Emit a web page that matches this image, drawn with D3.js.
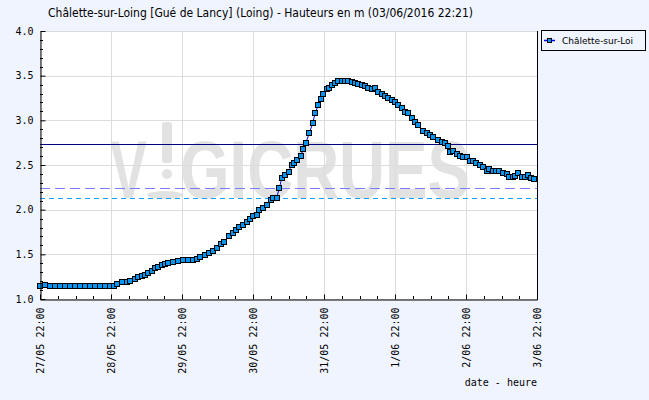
<!DOCTYPE html>
<html><head><meta charset="utf-8">
<script src="https://cdn.jsdelivr.net/npm/d3@7"></script>
<style>html,body{margin:0;padding:0;background:#f0f4ff;}svg{display:block;}</style>
</head><body>
<svg id="c" width="649" height="400"></svg>
<script>
const chartTitle = "Châlette-sur-Loing [Gué de Lancy] (Loing) - Hauteurs en m (03/06/2016 22:21)";
const seriesName = "Châlette-sur-Loi";
const xAxisTitle = "date - heure";
const startTime = new Date(2016, 4, 27, 22, 0);
const endTime = new Date(2016, 5, 3, 22, 0);
// hours after 27/05 22:00
const hours = [0,1.7,3.3,5,6.7,8.4,10.1,11.8,13.5,15.2,16.9,18.6,20.3,22,23.6,25,
 26.1,27.6,29.3,30.4,32.1,33.2,34.4,35.5,36.6,37.8,38.9,40,41.1,42.3,43.4,45,46.8,48.4,50.1,51.8,53,54.1,55.8,57.2,58.6,59.9,
 61.1,62.2,64,65.1,66.3,67.4,68.5,69.9,71,72.1,73.3,74.1,75.3,76.6,78,78.9,80,80.9,81.7,82.8,84,85.1,86,87,88.1,89,89.9,91,92.2,
 93,94.1,95,95.8,96.9,97.8,98.8,99.7,100.8,102,103.1,104.2,105.4,106.5,107.6,108.8,109.9,111,112.1,113.3,114.4,115.5,116.6,117.7,118.9,
 120,121.1,122.3,123.4,124.5,125.7,126.8,127.9,129.6,130.7,131.8,133,134.7,135.8,136.9,138,
 138.6,139.7,140.9,142,143.1,144.2,145.3,146.4,147.5,148.7,149.9,151,151.9,153,154.2,155.3,156.6,157.8,158.7,159.8,160.7,161.7,162.8,164,165.1,166,166.9];
const values = [1.15,1.155,1.15,1.15,1.14,1.14,1.14,1.14,1.14,1.14,1.14,1.14,1.14,1.145,1.15,1.15,
 1.168,1.194,1.194,1.20,1.22,1.243,1.257,1.269,1.287,1.317,1.343,1.362,1.38,1.39,1.40,1.418,1.43,1.437,1.437,1.437,1.448,1.466,1.49,1.52,1.54,1.574,
 1.616,1.64,1.705,1.735,1.772,1.81,1.828,1.865,1.89,1.93,1.94,1.996,2.015,2.05,2.108,2.127,2.134,2.24,2.35,2.39,2.425,2.50,2.526,2.556,2.60,2.676,2.75,2.855,2.967,
 3.085,3.172,3.242,3.30,3.347,3.358,3.396,3.415,3.44,3.444,3.44,3.444,3.433,3.42,3.407,3.396,3.384,3.366,3.347,3.358,3.32,3.30,3.27,3.247,3.228,
 3.20,3.172,3.142,3.097,3.078,3.023,2.978,2.948,2.884,2.862,2.836,2.817,2.78,2.761,2.743,2.713,
 2.642,2.657,2.62,2.60,2.586,2.586,2.545,2.55,2.526,2.50,2.474,2.436,2.455,2.436,2.433,2.433,2.414,2.396,2.362,2.362,2.377,2.407,2.362,2.362,2.388,2.351,2.34];
const xTickLabels = ["27/05 22:00","28/05 22:00","29/05 22:00","30/05 22:00","31/05 22:00","1/06 22:00","2/06 22:00","3/06 22:00"];
const yTickValues = [1.0,1.5,2.0,2.5,3.0,3.5,4.0];
const thresholdValues = [2.73, 2.24, 2.13];
const thresholdColors = ["#000080", "#7b7bff", "#0aa0ff"];
const thresholdDash = [null, "10,5", "5,4"];

const svg = d3.select("#c");
const L = 40, R = 537, T = 31, B = 299;
const x = d3.scaleTime().domain([startTime, endTime]).range([L, R]);
const y = d3.scaleLinear().domain([1, 4]).range([B, T]);
const data = hours.map((h, i) => ({t: d3.timeMinute.offset(startTime, Math.round(h * 60)), v: values[i]}));
const dayTicks = xTickLabels.map((s, i) => d3.timeHour.offset(startTime, 24 * i));
const minorX = d3.range(1, 28).filter(i => i % 4 !== 0).map(i => d3.timeHour.offset(startTime, 6 * i));

// plot bg
svg.append("rect").attr("x", L).attr("y", T).attr("width", R - L).attr("height", B - T).attr("fill", "#fff");

// watermark
const wm = svg.append("g").attr("fill", "#e2e2e2");
wm.append("text").attr("x", 110).attr("y", 198).attr("font-family", "Liberation Sans, Arial, sans-serif")
  .attr("font-weight", "bold").attr("font-size", 81).attr("textLength", 37).attr("lengthAdjust", "spacingAndGlyphs").text("V");
wm.append("rect").attr("x", 162).attr("y", 122).attr("width", 10).attr("height", 41).attr("rx", 3);
wm.append("circle").attr("cx", 167).attr("cy", 174).attr("r", 5);
wm.append("ellipse").attr("cx", 165).attr("cy", 195).attr("rx", 18).attr("ry", 4);
wm.append("text").attr("x", 180).attr("y", 198).attr("font-family", "Liberation Sans, Arial, sans-serif")
  .attr("font-weight", "bold").attr("font-size", 81).attr("textLength", 290).attr("lengthAdjust", "spacingAndGlyphs").text("GICRUES");

// grid
const grid = svg.append("g").attr("stroke", "#dcdcdc").attr("stroke-width", 1);
grid.selectAll("line.h").data(yTickValues).join("line").attr("class", "h")
  .attr("x1", L).attr("x2", R).attr("y1", d => Math.round(y(d)) + 0.5).attr("y2", d => Math.round(y(d)) + 0.5);
grid.selectAll("line.v").data(dayTicks).join("line").attr("class", "v")
  .attr("x1", d => Math.round(x(d)) + 0.5).attr("x2", d => Math.round(x(d)) + 0.5).attr("y1", T).attr("y2", B);

// thresholds
svg.selectAll("line.th").data(thresholdValues).join("line").attr("class", "th")
  .attr("x1", L).attr("x2", R).attr("y1", d => Math.round(y(d)) + 0.5).attr("y2", d => Math.round(y(d)) + 0.5)
  .attr("stroke", (d, i) => thresholdColors[i]).attr("stroke-width", 1)
  .attr("stroke-dasharray", (d, i) => thresholdDash[i]);

// series line + markers
svg.append("path").datum(data).attr("fill", "none").attr("stroke", "#0000ff").attr("stroke-width", 1)
  .attr("d", d3.line().x(d => x(d.t)).y(d => y(d.v)));
svg.selectAll("rect.m").data(data).join("rect").attr("class", "m")
  .attr("x", d => Math.round(x(d.t)) - 2.5).attr("y", d => Math.round(y(d.v)) - 2.5)
  .attr("width", 5).attr("height", 5).attr("fill", "#0895f0").attr("stroke", "#000").attr("stroke-width", 1);

// axes
const font = "DejaVu Sans Mono, monospace";
const yAxis = svg.append("g").attr("transform", `translate(${L + 0.5},0)`)
  .call(d3.axisLeft(y).tickValues(yTickValues).tickSizeInner(-5).tickSizeOuter(0).tickPadding(7).tickFormat(d3.format(".1f")));
yAxis.selectAll("text").attr("font-family", font).attr("font-size", 10).attr("fill", "#000");
yAxis.select(".domain").attr("stroke", "#000");
yAxis.selectAll(".tick line").attr("stroke", "#000");
svg.append("g").selectAll("line").data(d3.range(10, 40).map(d => d / 10).filter(d => Math.round(d * 10) % 5 !== 0)).join("line")
  .attr("x1", L).attr("x2", L + 3).attr("y1", d => Math.round(y(d)) + 0.5).attr("y2", d => Math.round(y(d)) + 0.5).attr("stroke", "#000");

const xAxis = svg.append("g").attr("transform", `translate(0,${B + 0.5})`)
  .call(d3.axisBottom(x).tickValues(dayTicks).tickSizeInner(-5).tickSizeOuter(0).tickPadding(0).tickFormat((d, i) => xTickLabels[i]));
xAxis.select(".domain").attr("stroke", "#000");
xAxis.selectAll(".tick line").attr("stroke", "#000");
xAxis.selectAll("text").attr("font-family", font).attr("font-size", 10).attr("fill", "#000")
  .attr("text-anchor", "end").attr("transform", "rotate(-90)").attr("x", -8).attr("y", 0).attr("dy", "0.35em");
svg.append("g").selectAll("line").data(minorX).join("line")
  .attr("x1", d => Math.round(x(d)) + 0.5).attr("x2", d => Math.round(x(d)) + 0.5).attr("y1", B).attr("y2", B - 3).attr("stroke", "#000");
// right border
svg.append("line").attr("x1", R + 0.5).attr("x2", R + 0.5).attr("y1", T).attr("y2", B + 1).attr("stroke", "#000");

svg.append("text").attr("x", R).attr("y", 386).attr("text-anchor", "end").attr("font-family", font).attr("font-size", 10).text(xAxisTitle);

// title
svg.append("text").attr("x", 260.5).attr("y", 17).attr("text-anchor", "middle")
  .attr("font-family", "DejaVu Sans Condensed, DejaVu Sans, sans-serif").attr("font-stretch", "condensed").attr("font-size", 11.5)
  .attr("textLength", 425).attr("lengthAdjust", "spacingAndGlyphs").text(chartTitle);

// legend
const lg = svg.append("g");
lg.append("rect").attr("x", 541.5).attr("y", 30.5).attr("width", 104).attr("height", 20).attr("fill", "none").attr("stroke", "#000");
lg.append("line").attr("x1", 544).attr("x2", 555).attr("y1", 40.5).attr("y2", 40.5).attr("stroke", "#0000ff").attr("stroke-width", 1.5);
lg.append("rect").attr("x", 547.5).attr("y", 38.5).attr("width", 4).attr("height", 4).attr("fill", "#0895f0").attr("stroke", "#000");
lg.append("text").attr("x", 562).attr("y", 44).attr("font-family", "DejaVu Sans, sans-serif").attr("font-size", 9)
  .attr("textLength", 71).attr("lengthAdjust", "spacingAndGlyphs").text(seriesName);
</script>
</body></html>
